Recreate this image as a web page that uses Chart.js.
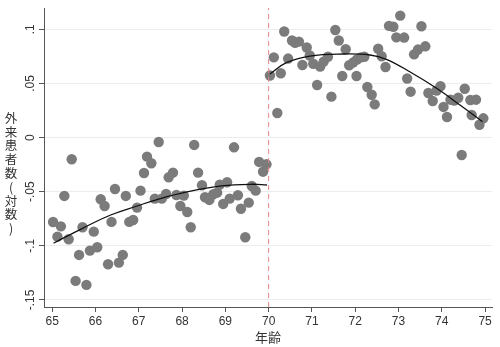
<!DOCTYPE html>
<html><head><meta charset="utf-8">
<script src="https://cdn.jsdelivr.net/npm/chart.js@4/dist/chart.umd.min.js"></script>
<style>html,body{margin:0;padding:0;background:#fff}#wrap{width:500px;height:347px;position:relative}</style>
</head><body><div id="wrap"><canvas id="c"></canvas></div>
<script>
const leftAge = [65.02,65.20,65.12,65.38,65.45,65.28,65.62,65.70,65.54,65.79,65.87,66.04,65.96,66.12,66.21,66.29,66.37,66.45,66.54,66.63,66.70,66.78,66.87,66.96,67.04,67.12,67.19,67.29,67.46,67.37,67.53,67.63,67.69,67.79,67.87,68.04,67.96,68.12,68.20,68.28,68.37,68.46,68.53,68.63,68.72,68.81,68.87,69.04,68.95,69.10,69.29,69.20,69.36,69.54,69.46,69.61,69.70,69.78,69.95,69.87];
const leftVal = [-0.078,-0.082,-0.0915,-0.0939,-0.020,-0.0539,-0.1084,-0.0828,-0.1324,-0.1361,-0.1044,-0.1013,-0.0869,-0.0570,-0.0632,-0.117,-0.0779,-0.0475,-0.1155,-0.1084,-0.0539,-0.0779,-0.0761,-0.0647,-0.0490,-0.0327,-0.0176,-0.0237,-0.0041,-0.0564,-0.0564,-0.0521,-0.0367,-0.0324,-0.0530,-0.0536,-0.0632,-0.0687,-0.0828,-0.0068,-0.0324,-0.0440,-0.0551,-0.0576,-0.0524,-0.0509,-0.0435,-0.0413,-0.0613,-0.0564,-0.0533,-0.0090,-0.0657,-0.0601,-0.0921,-0.0447,-0.0490,-0.0225,-0.0247,-0.0315];
const rightAge = [70.03,70.12,70.20,70.28,70.36,70.45,70.54,70.61,70.70,70.78,70.88,70.95,71.03,71.12,71.19,71.27,71.37,71.45,71.54,71.62,71.70,71.78,71.86,71.95,72.04,72.13,72.21,72.03,72.28,72.38,72.45,72.53,72.61,72.70,72.78,72.88,72.95,73.04,73.13,73.20,73.28,73.36,73.45,73.53,73.62,73.69,73.79,73.88,73.97,74.04,74.12,74.20,74.29,74.38,74.53,74.46,74.66,74.79,74.69,74.87,74.96];
const rightVal = [0.0573,0.0741,0.0227,0.0594,0.0980,0.0730,0.0897,0.0876,0.0886,0.0670,0.0832,0.0758,0.0682,0.0486,0.0655,0.0701,0.0747,0.0378,0.0994,0.0897,0.0569,0.0816,0.0668,0.0693,0.0721,0.0741,0.0747,0.0569,0.0467,0.0396,0.0307,0.0821,0.0751,0.0652,0.1032,0.1024,0.0926,0.1127,0.0924,0.0546,0.0424,0.0769,0.0813,0.1028,0.0843,0.0412,0.0338,0.0435,0.0474,0.0283,0.0190,0.0350,0.0341,0.0368,0.0451,-0.0161,0.0347,0.0350,0.0209,0.0119,0.0178];
const leftFitAge = [65.03,65.70,66.35,66.96,67.46,68.14,68.91,69.61,69.96];
const leftFitVal = [-0.0976,-0.0838,-0.0715,-0.0632,-0.0568,-0.0500,-0.0447,-0.0431,-0.0438];
const rightFitAge = [70.03,70.41,70.95,71.72,72.34,72.72,73.26,73.88,74.42,74.94];
const rightFitVal = [0.0587,0.0692,0.0753,0.0772,0.0763,0.0723,0.0608,0.0455,0.0301,0.0147];
const cutoff = 70;
const xTicks = [65,66,67,68,69,70,71,72,73,74,75];
const yTicks = [-0.15,-0.1,-0.05,0,0.05,0.1];
const yTickLabels = ["-.15","-.1","-.05","0",".05",".1"];
const xTitle = "年齢";
const yTitle = "外来患者数(対数)";
const xMin = 64.81, xMax = 75.16, yMin = -0.1565, yMax = 0.1197;

const pts = (xs, ys) => xs.map((x, i) => ({x, y: ys[i]}));

const labelPlugin = {
  id: 'labels',
  afterDraw(chart) {
    const ctx = chart.ctx, ys = chart.scales.y;
    ctx.save();
    ctx.fillStyle = '#333';
    ctx.font = '12px "Liberation Sans", Arial, sans-serif';
    ctx.textAlign = 'center'; ctx.textBaseline = 'middle';
    yTicks.forEach((v, i) => {
      const py = ys.getPixelForValue(v);
      ctx.save(); ctx.translate(31, py); ctx.rotate(-Math.PI / 2);
      ctx.fillText(yTickLabels[i], 0, 0); ctx.restore();
    });
    ctx.font = '12.5px "Noto Sans CJK JP", sans-serif';
    [...yTitle].forEach((ch, i) => ctx.fillText(ch, 11, 118 + i * 13.8));
    ctx.restore();
  }
};

new Chart(document.getElementById('c'), {
  type: 'scatter',
  data: {
    datasets: [
      {type:'line', data: pts(leftFitAge, leftFitVal), borderColor:'#111', borderWidth:1.3, pointRadius:0, tension:0.4, fill:false},
      {type:'line', data: pts(rightFitAge, rightFitVal), borderColor:'#111', borderWidth:1.3, pointRadius:0, tension:0.4, fill:false},
      {type:'line', data: [{x:cutoff,y:yMin},{x:cutoff,y:yMax}], borderColor:'#e38585', borderWidth:1, borderDash:[5,4], pointRadius:0, fill:false},
      {data: pts(leftAge, leftVal), backgroundColor:'#7b7b7b', pointRadius:5.2, borderWidth:0},
      {data: pts(rightAge, rightVal), backgroundColor:'#7b7b7b', pointRadius:5.2, borderWidth:0}
    ]
  },
  options: {
    responsive: true, maintainAspectRatio: false, animation: false,
    layout: {padding: {top: 8, right: 8, left: 0, bottom: 0}},
    plugins: {legend: {display: false}, tooltip: {enabled: false}},
    scales: {
      x: {
        type: 'linear', min: xMin, max: xMax,
        afterBuildTicks: s => { s.ticks = xTicks.map(v => ({value: v})); },
        afterFit: s => { s.height = 40; },
        ticks: {color:'#333', font:{size:12, family:'"Liberation Sans", Arial, sans-serif'}, padding:2, maxRotation:0, callback: v => String(v)},
        grid: {drawOnChartArea:false, drawTicks:true, tickLength:5, tickColor:'#555'},
        border: {color:'#555', width:1},
        title: {display:true, text:xTitle, color:'#333', font:{size:13, family:'"Noto Sans CJK JP", sans-serif'}, padding:{top:0,bottom:2}}
      },
      y: {
        type: 'linear', min: yMin, max: yMax,
        afterBuildTicks: s => { s.ticks = yTicks.map(v => ({value: v})); },
        afterFit: s => { s.width = 44; },
        ticks: {display:false},
        grid: {color:'#ececec', lineWidth:1, drawTicks:true, tickLength:5, tickColor:'#555'},
        border: {color:'#555', width:1}
      }
    }
  },
  plugins: [labelPlugin]
});
</script></body></html>
